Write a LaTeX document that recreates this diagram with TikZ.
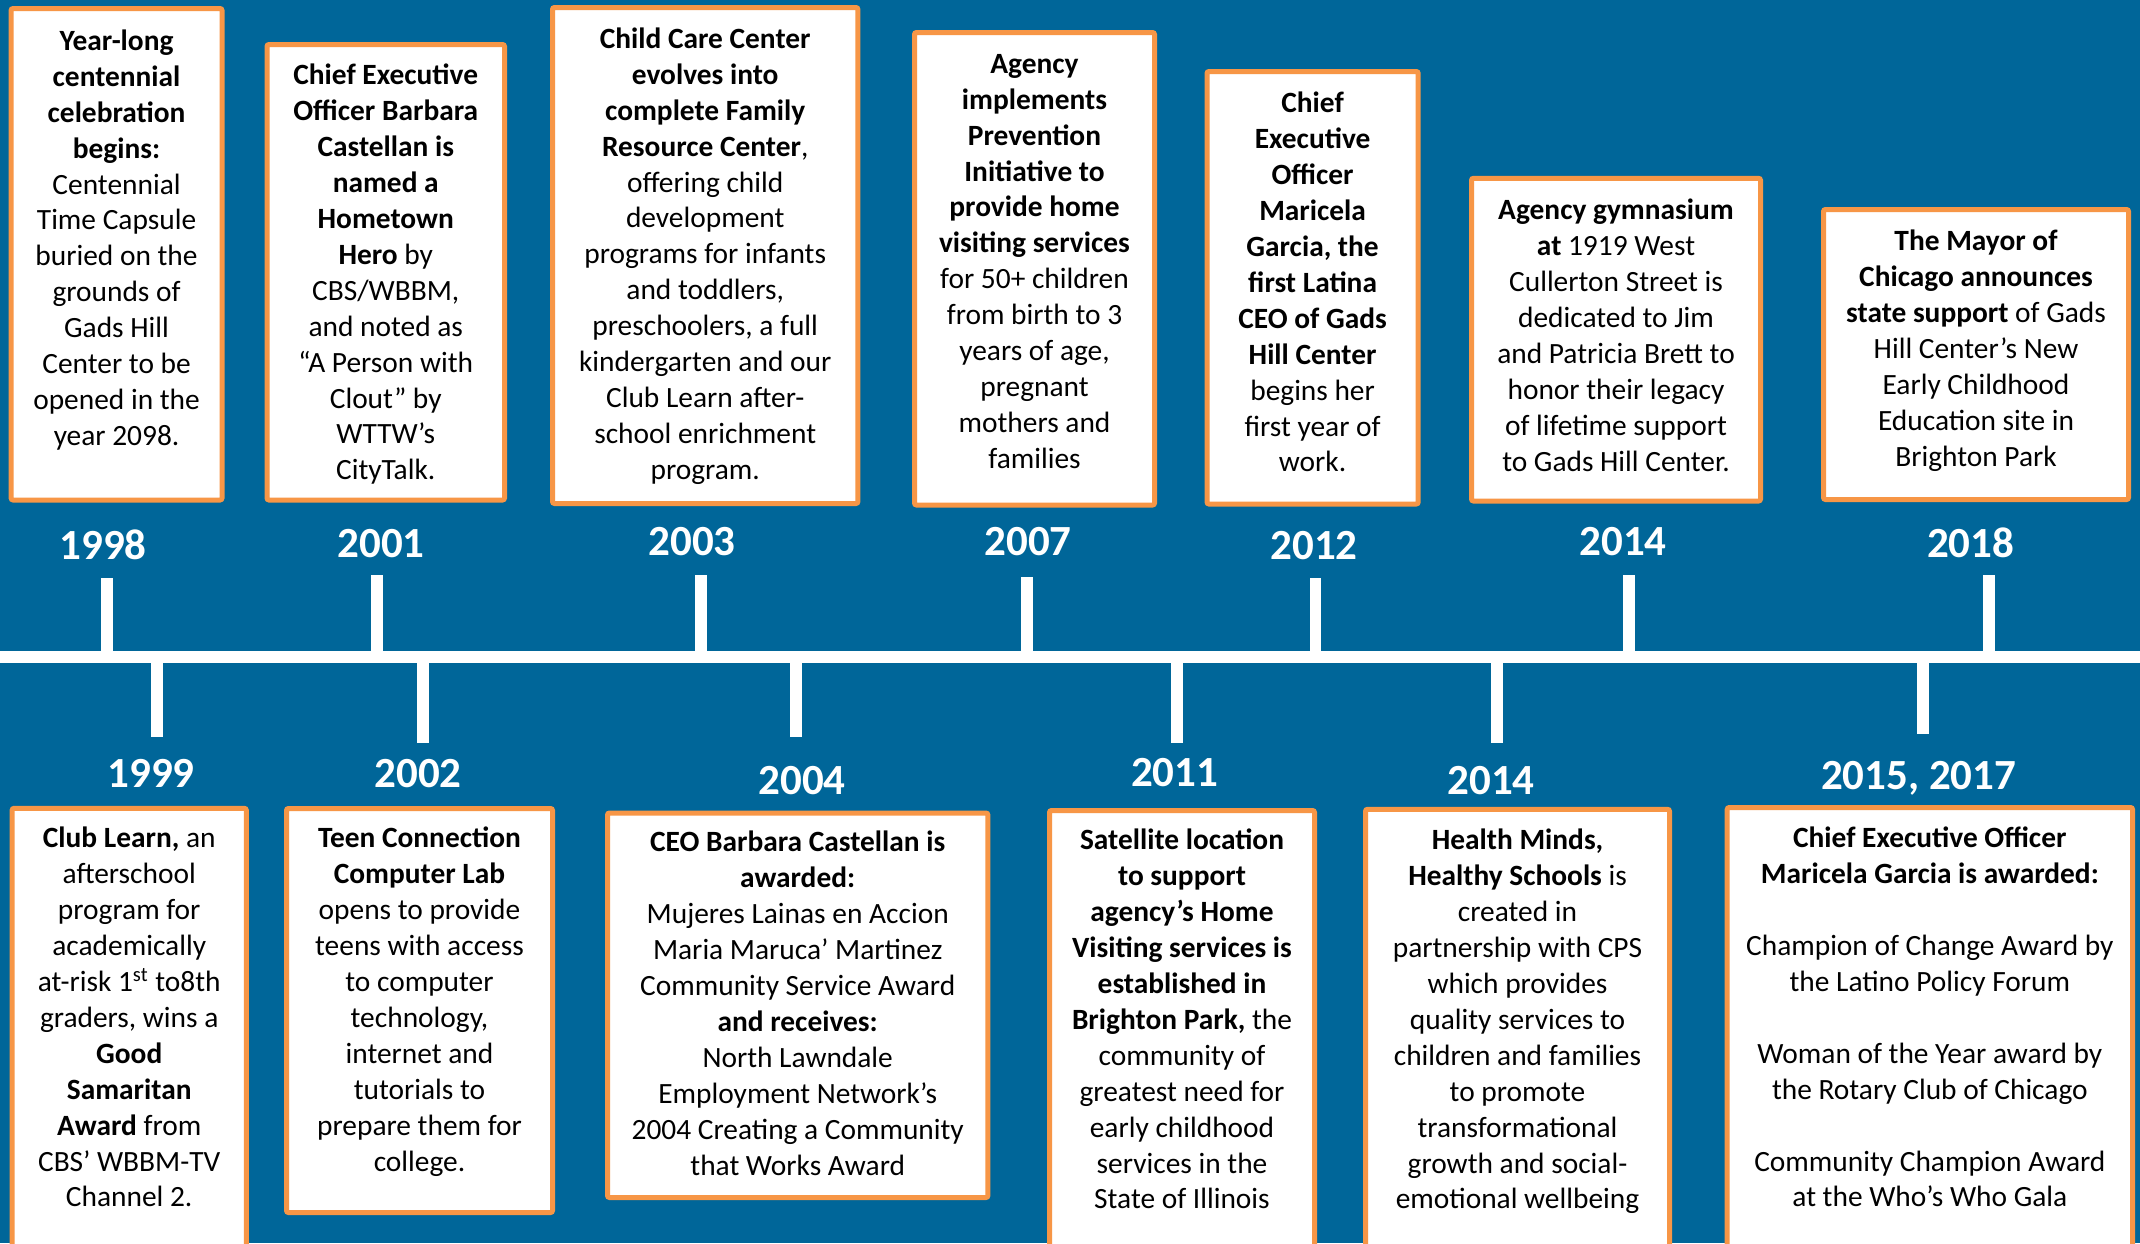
\documentclass[tikz,border=0pt]{standalone}
\usepackage{fontspec}
\setmainfont{Carlito}
\definecolor{bgblue}{RGB}{0,102,153}
\definecolor{boxorange}{RGB}{247,150,70}
\tikzset{
  boxframe/.style={draw=boxorange, fill=white, line width=2.5pt, rounded corners=1pt},
  boxtext/.style={align=center, anchor=north, inner sep=0pt, font=\fontsize{14.7}{17.95}\selectfont, execute at begin node=\strut},
  yearlabel/.style={anchor=base, inner sep=0pt, text=white, font=\fontsize{21.5}{26}\selectfont\bfseries},
  tickline/.style={draw=white, line width=5.75pt},
  axisline/.style={draw=white, line width=5.75pt}
}
% #1 name, #2 x1, #3 y1, #4 x2, #5 y2 (outer edges), #6 baseline of first line, #7 text
% strut height = 0.7*17.95pt = 12.565pt = 25.13 units
\newcommand{\tlbox}[7]{%
  \path[boxframe] (#2+2.5,#3+2.5) rectangle (#4-2.5,#5-2.5);
  \node[boxtext] (#1) at ({(#2+#4)/2},#6-20.13) {#7};
}
\newcommand{\tltick}[3]{% name, x, y-end
  \coordinate (#1a) at (#2,657);
  \coordinate (#1b) at (#2,#3);
  \draw[tickline] (#1a) -- (#1b);
}
\begin{document}
\begin{tikzpicture}[x=0.5pt,y=-0.5pt]
\useasboundingbox (0,0) rectangle (2140,1243);
\fill[bgblue] (0,0) rectangle (2140,1243);
\clip (0,0) rectangle (2140,1243);

% timeline
\coordinate (axL) at (0,657);
\coordinate (axR) at (2140,657);
\draw[axisline] (axL) -- (axR);

% ticks
\tltick{k1998}{107}{577.6}
\tltick{k2001}{377}{575}
\tltick{k2003}{701}{575}
\tltick{k2007}{1027}{577}
\tltick{k2012}{1315.5}{577.6}
\tltick{k2014a}{1629}{575}
\tltick{k2018}{1989}{575}
\tltick{k1999}{157}{736.7}
\tltick{k2002}{423}{742.7}
\tltick{k2004}{796}{736.7}
\tltick{k2011}{1177}{742.7}
\tltick{k2014b}{1497}{742.7}
\tltick{k2015}{1923}{734.4}

% year labels
\node[yearlabel] (y1998) at (103,559) {1998};
\node[yearlabel] (y2001) at (381,557) {2001};
\node[yearlabel] (y2003) at (692,555) {2003};
\node[yearlabel] (y2007) at (1028,555) {2007};
\node[yearlabel] (y2012) at (1314,559) {2012};
\node[yearlabel] (y2014a) at (1623,555) {2014};
\node[yearlabel] (y2018) at (1970.6,557) {2018};
\node[yearlabel] (y1999) at (151,787.6) {1999};
\node[yearlabel] (y2002) at (418,787) {2002};
\node[yearlabel] (y2004) at (802,794.5) {2004};
\node[yearlabel] (y2011) at (1174.6,786.6) {2011};
\node[yearlabel] (y2014b) at (1491,794.5) {2014};
\node[yearlabel] (y2015) at (1918.6,789) {2015, 2017};

% top boxes
\tlbox{b1998}{8.6}{6}{224.5}{502.5}{49.5}{\textbf{Year-long}\\ \textbf{centennial}\\ \textbf{celebration}\\ \textbf{begins:}\\ Centennial\\ Time Capsule\\ buried on the\\ grounds of\\ Gads Hill\\ Center to be\\ opened in the\\ year 2098.}
\tlbox{b2001}{264.5}{42}{507}{502.5}{84}{\textbf{Chief Executive}\\ \textbf{Officer Barbara}\\ \textbf{Castellan is}\\ \textbf{named a}\\ \textbf{Hometown}\\ \textbf{Hero} by\\ CBS/WBBM,\\ and noted as\\ “A Person with\\ Clout” by\\ WTTW’s\\ CityTalk.}
\tlbox{b2003}{550}{5}{860.4}{506}{47.5}{\textbf{Child Care Center}\\ \textbf{evolves into}\\ \textbf{complete Family}\\ \textbf{Resource Center},\\ offering child\\ development\\ programs for infants\\ and toddlers,\\ preschoolers, a full\\ kindergarten and our\\ Club Learn after-\\ school enrichment\\ program.}
\tlbox{b2007}{912}{30}{1157}{507.5}{74}{\textbf{Agency}\\ \textbf{implements}\\ \textbf{Prevention}\\ \textbf{Initiative to}\\ \textbf{provide home}\\ \textbf{visiting services}\\ for 50+ children\\ from birth to 3\\ years of age,\\ pregnant\\ mothers and\\ families}
\tlbox{b2012}{1204.5}{69}{1420.7}{506.5}{112}{\textbf{Chief}\\ \textbf{Executive}\\ \textbf{Officer}\\ \textbf{Maricela}\\ \textbf{Garcia, the}\\ \textbf{first Latina}\\ \textbf{CEO of Gads}\\ \textbf{Hill Center}\\ begins her\\ first year of\\ work.}
\tlbox{b2014a}{1469}{175.8}{1763}{503.5}{219}{\textbf{Agency gymnasium}\\ \textbf{at} 1919 West\\ Cullerton Street is\\ dedicated to Jim\\ and Patricia Brett to\\ honor their legacy\\ of lifetime support\\ to Gads Hill Center.}
\tlbox{b2018}{1821}{207}{2131}{502}{250}{\textbf{The Mayor of}\\ \textbf{Chicago announces}\\ \textbf{state support} of Gads\\ Hill Center’s New\\ Early Childhood\\ Education site in\\ Brighton Park}

% bottom boxes
\tlbox{b1999}{9.6}{805.8}{248.8}{1262}{847}{\textbf{Club Learn,} an\\ afterschool\\ program for\\ academically\\ at-risk 1\textsuperscript{st} to8th\\ graders, wins a\\ \textbf{Good}\\ \textbf{Samaritan}\\ \textbf{Award} from\\ CBS’ WBBM-TV\\ Channel 2.}
\tlbox{b2002}{284}{806}{555}{1215}{847}{\textbf{Teen Connection}\\ \textbf{Computer Lab}\\ opens to provide\\ teens with access\\ to computer\\ technology,\\ internet and\\ tutorials to\\ prepare them for\\ college.}
\tlbox{b2004}{605}{810.5}{990.4}{1200}{851}{\textbf{CEO Barbara Castellan is}\\ \textbf{awarded:}\\ Mujeres Lainas en Accion\\ Maria Maruca’ Martinez\\ Community Service Award\\ \textbf{and receives:}\\ North Lawndale\\ Employment Network’s\\ 2004 Creating a Community\\ that Works Award}
\tlbox{b2011}{1047}{808}{1317}{1262}{849}{\textbf{Satellite location}\\ \textbf{to support}\\ \textbf{agency’s Home}\\ \textbf{Visiting services is}\\ \textbf{established in}\\ \textbf{Brighton Park,} the\\ community of\\ greatest need for\\ early childhood\\ services in the\\ State of Illinois}
\tlbox{b2014b}{1363}{806.8}{1672}{1262}{849}{\textbf{Health Minds,}\\ \textbf{Healthy Schools} is\\ created in\\ partnership with CPS\\ which provides\\ quality services to\\ children and families\\ to promote\\ transformational\\ growth and social-\\ emotional wellbeing}
\tlbox{b2015}{1724.7}{805}{2135}{1262}{847}{\textbf{Chief Executive Officer}\\ \textbf{Maricela Garcia is awarded:}\\ ~\\ Champion of Change Award by\\ the Latino Policy Forum\\ ~\\ Woman of the Year award by\\ the Rotary Club of Chicago\\ ~\\ Community Champion Award\\ at the Who’s Who Gala}
\end{tikzpicture}
\end{document}
